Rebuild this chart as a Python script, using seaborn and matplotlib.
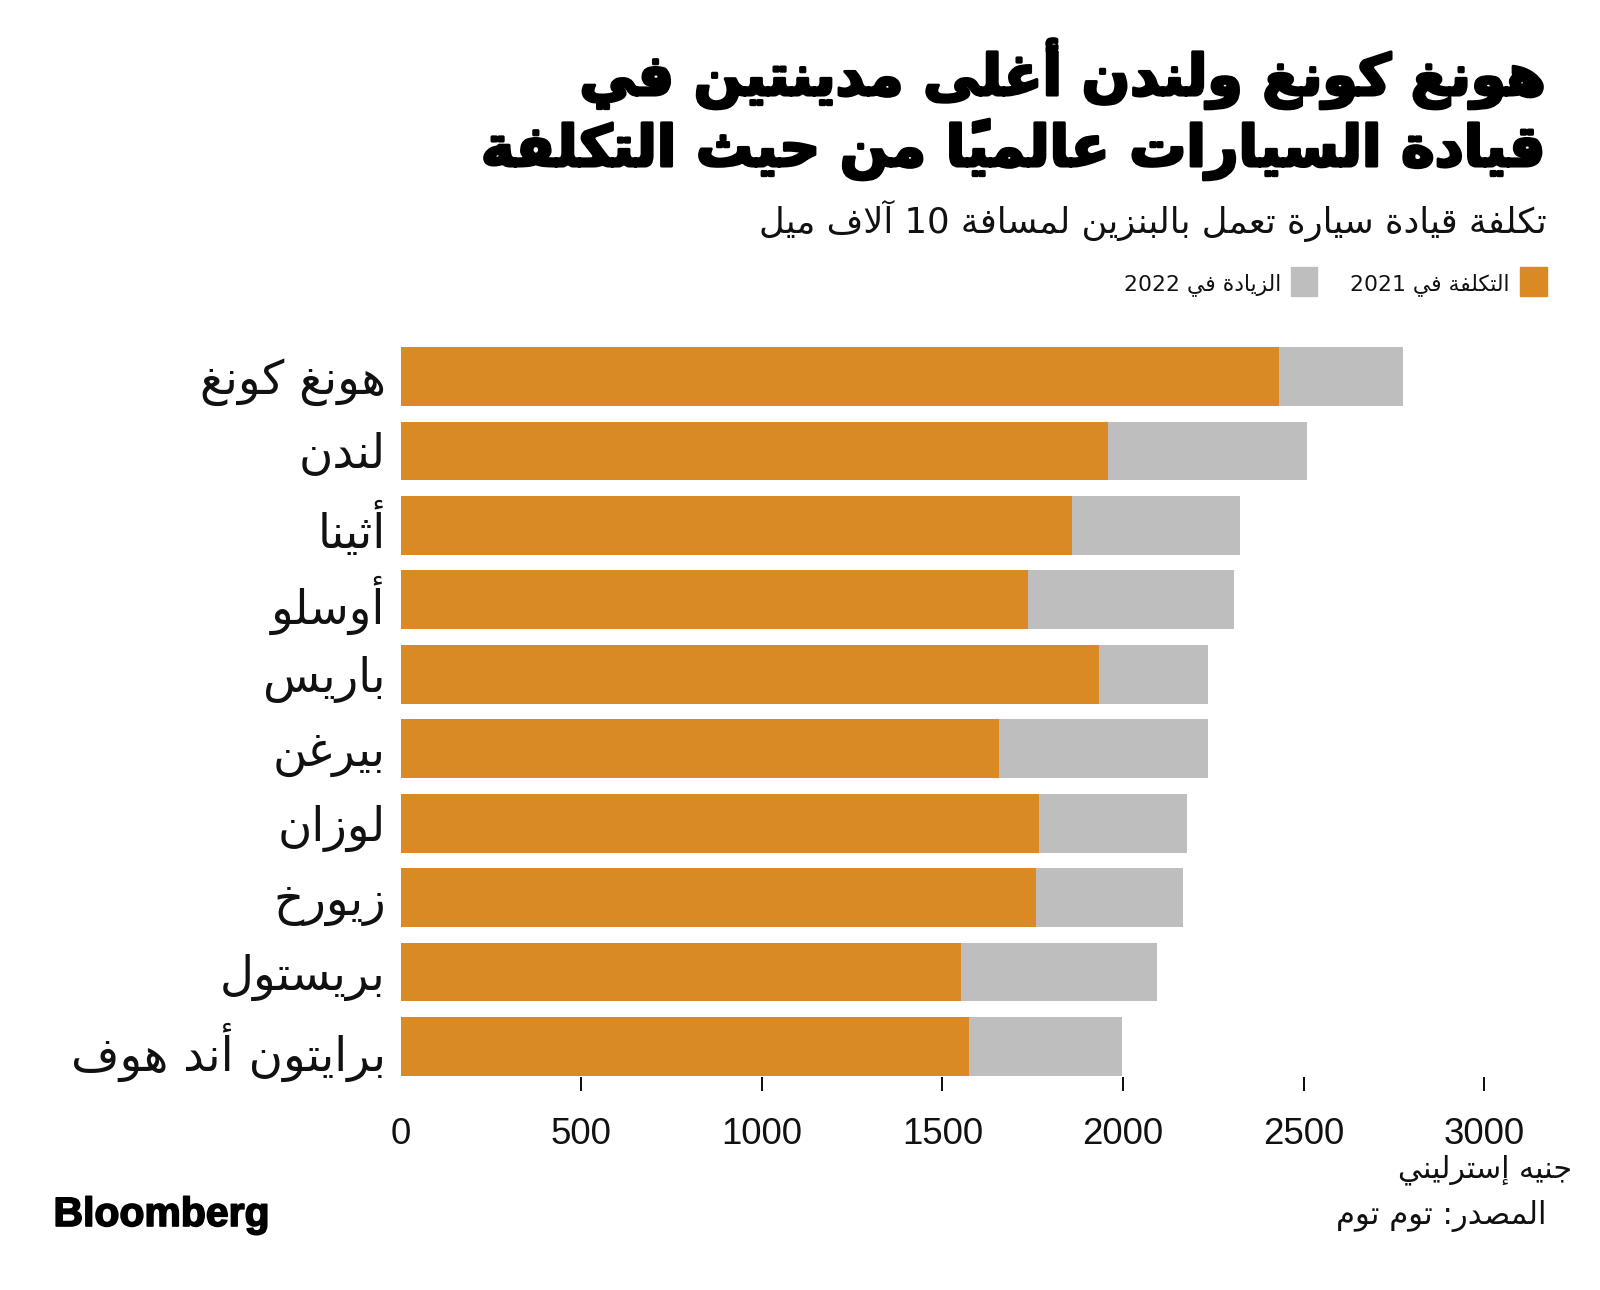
import unicodedata
import numpy as np
import pandas as pd
import matplotlib
matplotlib.use("Agg")
import matplotlib.pyplot as plt
import matplotlib.patheffects as pe
import seaborn as sns
from matplotlib.patches import Rectangle

# ---------------- data ----------------
cities = ["هونغ كونغ", "لندن", "أثينا", "أوسلو", "باريس", "بيرغن",
          "لوزان", "زيورخ", "بريستول", "برايتون أند هوف"]
cost_2021 = [2431, 1958, 1858, 1736, 1933, 1656, 1767, 1758, 1551, 1573]
increase_2022 = [343, 550, 465, 570, 302, 579, 409, 407, 542, 423]
x_ticks = [0, 500, 1000, 1500, 2000, 2500, 3000]
x_tick_labels = ["0", "500", "1000", "1500", "2000", "2500", "3000"]
series_labels = ["التكلفة في 2021", "الزيادة في 2022"]
title_lines = ["هونغ كونغ ولندن أغلى مدينتين في",
               "قيادة السيارات عالمياً من حيث التكلفة"]
subtitle = "تكلفة قيادة سيارة تعمل بالبنزين لمسافة 10 آلاف ميل"
unit_label = "جنيه إسترليني"
source_label = "المصدر: توم توم"
brand = "Bloomberg"

ORANGE = "#DA8A25"
GRAY = "#BEBEBE"

# ---------------- minimal Arabic shaping + visual reordering ----------------
DUAL = {0x0626: 0xFE89, 0x0628: 0xFE8F, 0x062A: 0xFE95, 0x062B: 0xFE99,
        0x062C: 0xFE9D, 0x062D: 0xFEA1, 0x062E: 0xFEA5, 0x0633: 0xFEB1,
        0x0634: 0xFEB5, 0x0635: 0xFEB9, 0x0636: 0xFEBD, 0x0637: 0xFEC1,
        0x0638: 0xFEC5, 0x0639: 0xFEC9, 0x063A: 0xFECD, 0x0641: 0xFED1,
        0x0642: 0xFED5, 0x0643: 0xFED9, 0x0644: 0xFEDD, 0x0645: 0xFEE1,
        0x0646: 0xFEE5, 0x0647: 0xFEE9, 0x064A: 0xFEF1}
RIGHT = {0x0622: 0xFE81, 0x0623: 0xFE83, 0x0624: 0xFE85, 0x0625: 0xFE87,
         0x0627: 0xFE8D, 0x0629: 0xFE93, 0x062F: 0xFEA9, 0x0630: 0xFEAB,
         0x0631: 0xFEAD, 0x0632: 0xFEAF, 0x0648: 0xFEED, 0x0649: 0xFEEF}
LAMALEF = {0x0622: 0xFEF5, 0x0623: 0xFEF7, 0x0625: 0xFEF9, 0x0627: 0xFEFB}


def shape(text):
    clusters = []
    for ch in text:
        if unicodedata.category(ch) == "Mn" and clusters:
            clusters[-1][1] += ch
        else:
            clusters.append([ch, "", None, None])
    merged = []
    i = 0
    while i < len(clusters):
        c = clusters[i]
        o = ord(c[0])
        if (o == 0x0644 and i + 1 < len(clusters)
                and ord(clusters[i + 1][0]) in LAMALEF):
            a = ord(clusters[i + 1][0])
            merged.append([c[0], c[1] + clusters[i + 1][1], "R", LAMALEF[a]])
            i += 2
            continue
        if o in DUAL:
            merged.append([c[0], c[1], "D", DUAL[o]])
        elif o in RIGHT:
            merged.append([c[0], c[1], "R", RIGHT[o]])
        else:
            merged.append([c[0], c[1], "U", None])
        i += 1
    out = []
    for k, c in enumerate(merged):
        kind = c[2]
        if kind == "U":
            out.append((c[0] + c[1], c[0].isdigit()))
            continue
        prev_j = k > 0 and merged[k - 1][2] == "D"
        next_j = kind == "D" and k + 1 < len(merged) and merged[k + 1][2] in ("D", "R")
        base = c[3]
        if prev_j and next_j:
            g = base + 3
        elif prev_j:
            g = base + 1
        elif next_j:
            g = base + 2
        else:
            g = base
        out.append((chr(g) + c[1], False))
    tokens = []
    for s, is_digit in out:
        if is_digit and tokens and tokens[-1][1]:
            tokens[-1][0] += s
        else:
            tokens.append([s, is_digit])
    return "".join(t[0] for t in reversed(tokens))


# ---------------- figure ----------------
W, H, DPI = 1600, 1290, 100
sns.set_theme(style="white")
plt.rcParams["font.family"] = ["DejaVu Sans"]
fig = plt.figure(figsize=(W / DPI, H / DPI), dpi=DPI)
fig.patch.set_facecolor("white")
renderer = fig.canvas.get_renderer()


def P(x, y):
    return x / W, 1 - y / H


def fit(text, target_w, **kw):
    t = fig.text(0, 0, text, fontsize=100, **kw)
    w = t.get_window_extent(renderer).width
    t.remove()
    return 100 * target_w / w


ax_left, ax_right = 400.7, 1484.3
ax_top, ax_bottom = 339.3, 1083.7
ax = fig.add_axes([ax_left / W, 1 - ax_bottom / H,
                   (ax_right - ax_left) / W, (ax_bottom - ax_top) / H])

display_cities = [shape(c) for c in cities]
df = pd.DataFrame({"city": display_cities,
                   "cost": cost_2021,
                   "increase": increase_2022})
df["total"] = df["cost"] + df["increase"]

sns.barplot(data=df, y="city", x="total", color=GRAY, saturation=1,
            width=0.79, ax=ax, orient="h", linewidth=0, edgecolor="none")
sns.barplot(data=df, y="city", x="cost", color=ORANGE, saturation=1,
            width=0.79, ax=ax, orient="h", linewidth=0, edgecolor="none")

ax.set_xlim(0, 3000)
ax.set_ylim(9.5, -0.5)
ax.set_xlabel("")
ax.set_ylabel("")
for s in ax.spines.values():
    s.set_visible(False)
ax.set_xticks(x_ticks)
ax.set_xticklabels(x_tick_labels)

tick_fs = fit("500", 61, family="Liberation Sans")
cat_fs = fit(display_cities[0], 186, family="DejaVu Sans")
ax.tick_params(axis="x", direction="inout", length=14 * 0.72, width=2 * 0.72,
               color="#111111", pad=26 * 0.72, labelsize=tick_fs,
               labelcolor="#111111", bottom=True)
for lab in ax.get_xticklabels():
    lab.set_family("Liberation Sans")
ax.xaxis.get_major_ticks()[0].tick1line.set_visible(False)
ax.tick_params(axis="y", length=0, pad=15 * 0.72, labelsize=cat_fs,
               labelcolor="#111111")
ax.grid(False)

# ---------------- texts ----------------
RX = 1547
t1, t2 = shape(title_lines[0]), shape(title_lines[1])
heavy = [pe.withStroke(linewidth=2.2, foreground="black")]
title_fs = fit(t2, 1064, fontweight="bold")
fig.text(*P(RX, 95), t1, fontsize=title_fs, fontweight="bold", ha="right",
         va="baseline", color="black", path_effects=heavy)
fig.text(*P(RX, 166), t2, fontsize=title_fs, fontweight="bold", ha="right",
         va="baseline", color="black", path_effects=heavy)

sub = shape(subtitle)
sub_fs = fit(sub, 789)
fig.text(*P(RX, 233), sub, fontsize=sub_fs, ha="right", va="baseline",
         color="#111111")

leg1, leg2 = shape(series_labels[0]), shape(series_labels[1])
leg_fs = fit(leg1, 160)
fig.patches.append(Rectangle(P(1520, 296), 27 / W, 29 / H, color=ORANGE,
                             transform=fig.transFigure, figure=fig))
fig.text(*P(1510, 290), leg1, fontsize=leg_fs, ha="right", va="baseline",
         color="#111111")
fig.patches.append(Rectangle(P(1291, 296), 26 / W, 29 / H, color=GRAY,
                             transform=fig.transFigure, figure=fig))
fig.text(*P(1281, 290), leg2, fontsize=leg_fs, ha="right", va="baseline",
         color="#111111")

unit = shape(unit_label)
unit_fs = fit(unit, 174)
fig.text(*P(1572, 1177), unit, fontsize=unit_fs, ha="right", va="baseline",
         color="#111111")
src = shape(source_label)
src_fs = fit(src, 210)
fig.text(*P(RX, 1224), src, fontsize=src_fs, ha="right", va="baseline",
         color="#111111")

b_fs = fit(brand, 216, family="Liberation Sans", fontweight="bold")
fig.text(*P(53.5, 1226), brand, fontsize=b_fs, family="Liberation Sans",
         fontweight="bold", ha="left", va="baseline", color="black",
         path_effects=[pe.withStroke(linewidth=1.2, foreground="black")])

fig.savefig("out.png", dpi=DPI, facecolor="white")
